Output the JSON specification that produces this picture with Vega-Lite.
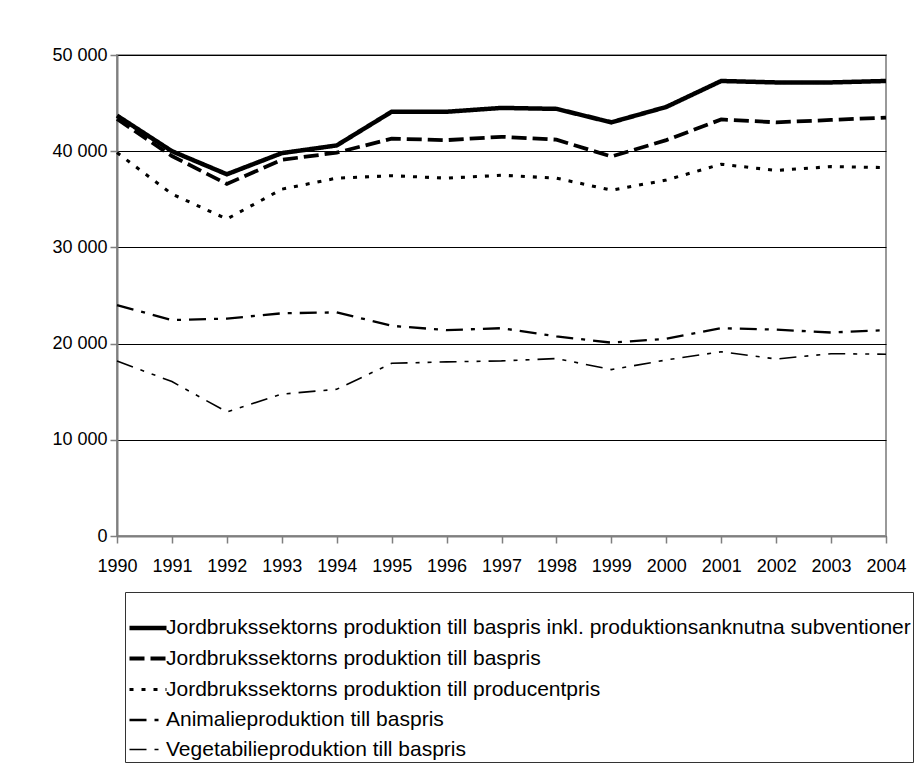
{
  "$schema": "https://vega.github.io/schema/vega-lite/v6.json",
  "width": 769,
  "height": 481,
  "autosize": {"type": "none"},
  "padding": {"left": 117, "top": 55, "right": 36, "bottom": 238},
  "background": "white",
  "config": {
    "font": "Liberation Sans",
    "view": {"stroke": "#999999", "strokeWidth": 2},
    "axis": {"labelFont": "Liberation Sans", "labelColor": "black", "labelFontSize": 18, "domainColor": "#7f7f7f", "domainWidth": 2, "tickColor": "#7f7f7f", "tickWidth": 1.5, "tickSize": 7, "title": null},
    "legend": {"labelFont": "Liberation Sans", "titleFont": "Liberation Sans"}
  },
  "data": {
    "values": [
      {"year": 1990, "series": "Jordbrukssektorns produktion till baspris inkl. produktionsanknutna subventioner", "value": 43700},
      {"year": 1991, "series": "Jordbrukssektorns produktion till baspris inkl. produktionsanknutna subventioner", "value": 40000},
      {"year": 1992, "series": "Jordbrukssektorns produktion till baspris inkl. produktionsanknutna subventioner", "value": 37600},
      {"year": 1993, "series": "Jordbrukssektorns produktion till baspris inkl. produktionsanknutna subventioner", "value": 39800},
      {"year": 1994, "series": "Jordbrukssektorns produktion till baspris inkl. produktionsanknutna subventioner", "value": 40600},
      {"year": 1995, "series": "Jordbrukssektorns produktion till baspris inkl. produktionsanknutna subventioner", "value": 44100},
      {"year": 1996, "series": "Jordbrukssektorns produktion till baspris inkl. produktionsanknutna subventioner", "value": 44100},
      {"year": 1997, "series": "Jordbrukssektorns produktion till baspris inkl. produktionsanknutna subventioner", "value": 44500},
      {"year": 1998, "series": "Jordbrukssektorns produktion till baspris inkl. produktionsanknutna subventioner", "value": 44400},
      {"year": 1999, "series": "Jordbrukssektorns produktion till baspris inkl. produktionsanknutna subventioner", "value": 43000},
      {"year": 2000, "series": "Jordbrukssektorns produktion till baspris inkl. produktionsanknutna subventioner", "value": 44600},
      {"year": 2001, "series": "Jordbrukssektorns produktion till baspris inkl. produktionsanknutna subventioner", "value": 47300},
      {"year": 2002, "series": "Jordbrukssektorns produktion till baspris inkl. produktionsanknutna subventioner", "value": 47150},
      {"year": 2003, "series": "Jordbrukssektorns produktion till baspris inkl. produktionsanknutna subventioner", "value": 47150},
      {"year": 2004, "series": "Jordbrukssektorns produktion till baspris inkl. produktionsanknutna subventioner", "value": 47300},
      {"year": 1990, "series": "Jordbrukssektorns produktion till baspris", "value": 43350},
      {"year": 1991, "series": "Jordbrukssektorns produktion till baspris", "value": 39500},
      {"year": 1992, "series": "Jordbrukssektorns produktion till baspris", "value": 36600},
      {"year": 1993, "series": "Jordbrukssektorns produktion till baspris", "value": 39100},
      {"year": 1994, "series": "Jordbrukssektorns produktion till baspris", "value": 39850},
      {"year": 1995, "series": "Jordbrukssektorns produktion till baspris", "value": 41300},
      {"year": 1996, "series": "Jordbrukssektorns produktion till baspris", "value": 41150},
      {"year": 1997, "series": "Jordbrukssektorns produktion till baspris", "value": 41500},
      {"year": 1998, "series": "Jordbrukssektorns produktion till baspris", "value": 41200},
      {"year": 1999, "series": "Jordbrukssektorns produktion till baspris", "value": 39450},
      {"year": 2000, "series": "Jordbrukssektorns produktion till baspris", "value": 41150},
      {"year": 2001, "series": "Jordbrukssektorns produktion till baspris", "value": 43300},
      {"year": 2002, "series": "Jordbrukssektorns produktion till baspris", "value": 43000},
      {"year": 2003, "series": "Jordbrukssektorns produktion till baspris", "value": 43250},
      {"year": 2004, "series": "Jordbrukssektorns produktion till baspris", "value": 43500},
      {"year": 1990, "series": "Jordbrukssektorns produktion till producentpris", "value": 39850},
      {"year": 1991, "series": "Jordbrukssektorns produktion till producentpris", "value": 35550},
      {"year": 1992, "series": "Jordbrukssektorns produktion till producentpris", "value": 32950},
      {"year": 1993, "series": "Jordbrukssektorns produktion till producentpris", "value": 36050},
      {"year": 1994, "series": "Jordbrukssektorns produktion till producentpris", "value": 37200},
      {"year": 1995, "series": "Jordbrukssektorns produktion till producentpris", "value": 37450},
      {"year": 1996, "series": "Jordbrukssektorns produktion till producentpris", "value": 37200},
      {"year": 1997, "series": "Jordbrukssektorns produktion till producentpris", "value": 37500},
      {"year": 1998, "series": "Jordbrukssektorns produktion till producentpris", "value": 37200},
      {"year": 1999, "series": "Jordbrukssektorns produktion till producentpris", "value": 35950},
      {"year": 2000, "series": "Jordbrukssektorns produktion till producentpris", "value": 37000},
      {"year": 2001, "series": "Jordbrukssektorns produktion till producentpris", "value": 38650},
      {"year": 2002, "series": "Jordbrukssektorns produktion till producentpris", "value": 38000},
      {"year": 2003, "series": "Jordbrukssektorns produktion till producentpris", "value": 38400},
      {"year": 2004, "series": "Jordbrukssektorns produktion till producentpris", "value": 38300},
      {"year": 1990, "series": "Animalieproduktion till baspris", "value": 24000},
      {"year": 1991, "series": "Animalieproduktion till baspris", "value": 22450},
      {"year": 1992, "series": "Animalieproduktion till baspris", "value": 22600},
      {"year": 1993, "series": "Animalieproduktion till baspris", "value": 23150},
      {"year": 1994, "series": "Animalieproduktion till baspris", "value": 23250},
      {"year": 1995, "series": "Animalieproduktion till baspris", "value": 21850},
      {"year": 1996, "series": "Animalieproduktion till baspris", "value": 21400},
      {"year": 1997, "series": "Animalieproduktion till baspris", "value": 21600},
      {"year": 1998, "series": "Animalieproduktion till baspris", "value": 20750},
      {"year": 1999, "series": "Animalieproduktion till baspris", "value": 20100},
      {"year": 2000, "series": "Animalieproduktion till baspris", "value": 20500},
      {"year": 2001, "series": "Animalieproduktion till baspris", "value": 21600},
      {"year": 2002, "series": "Animalieproduktion till baspris", "value": 21450},
      {"year": 2003, "series": "Animalieproduktion till baspris", "value": 21150},
      {"year": 2004, "series": "Animalieproduktion till baspris", "value": 21400},
      {"year": 1990, "series": "Vegetabilieproduktion till baspris", "value": 18200},
      {"year": 1991, "series": "Vegetabilieproduktion till baspris", "value": 16050},
      {"year": 1992, "series": "Vegetabilieproduktion till baspris", "value": 12900},
      {"year": 1993, "series": "Vegetabilieproduktion till baspris", "value": 14750},
      {"year": 1994, "series": "Vegetabilieproduktion till baspris", "value": 15250},
      {"year": 1995, "series": "Vegetabilieproduktion till baspris", "value": 17950},
      {"year": 1996, "series": "Vegetabilieproduktion till baspris", "value": 18100},
      {"year": 1997, "series": "Vegetabilieproduktion till baspris", "value": 18200},
      {"year": 1998, "series": "Vegetabilieproduktion till baspris", "value": 18450},
      {"year": 1999, "series": "Vegetabilieproduktion till baspris", "value": 17300},
      {"year": 2000, "series": "Vegetabilieproduktion till baspris", "value": 18300},
      {"year": 2001, "series": "Vegetabilieproduktion till baspris", "value": 19150},
      {"year": 2002, "series": "Vegetabilieproduktion till baspris", "value": 18400},
      {"year": 2003, "series": "Vegetabilieproduktion till baspris", "value": 18950},
      {"year": 2004, "series": "Vegetabilieproduktion till baspris", "value": 18900}
    ]
  },
  "mark": {"type": "line", "color": "black", "strokeCap": "butt", "strokeJoin": "miter"},
  "encoding": {
    "x": {
      "field": "year", "type": "quantitative",
      "scale": {"domain": [1990, 2004], "nice": false, "zero": false},
      "axis": {"values": [1990,1991,1992,1993,1994,1995,1996,1997,1998,1999,2000,2001,2002,2003,2004], "format": "d", "grid": false, "labelPadding": 14, "labelFlush": false, "labelOverlap": false}
    },
    "y": {
      "field": "value", "type": "quantitative",
      "scale": {"domain": [0, 50000], "nice": false},
      "axis": {"values": [0, 10000, 20000, 30000, 40000, 50000], "labelExpr": "replace(format(datum.value, ','), ',', ' ')", "grid": true, "gridColor": "black", "gridWidth": 1, "labelPadding": 3}
    },
    "strokeDash": {
      "field": "series", "type": "nominal",
      "scale": {
        "domain": ["Jordbrukssektorns produktion till baspris inkl. produktionsanknutna subventioner", "Jordbrukssektorns produktion till baspris", "Jordbrukssektorns produktion till producentpris", "Animalieproduktion till baspris", "Vegetabilieproduktion till baspris"],
        "range": [[1, 0], [15, 6], [4, 8], [17, 8, 4, 8], [17, 8, 4, 8, 4, 8]]
      },
      "legend": {"title": " ", "titleFontSize": 12, "titlePadding": 1, "orient": "none", "legendX": 8, "legendY": 537, "padding": 2, "strokeColor": "#333333", "symbolType": "stroke", "symbolSize": 1369, "symbolStrokeColor": "black", "labelFontSize": 21, "labelColor": "black", "labelLimit": 1000, "labelOffset": -3, "rowPadding": -5}
    },
    "strokeWidth": {
      "field": "series", "type": "nominal",
      "scale": {
        "domain": ["Jordbrukssektorns produktion till baspris inkl. produktionsanknutna subventioner", "Jordbrukssektorns produktion till baspris", "Jordbrukssektorns produktion till producentpris", "Animalieproduktion till baspris", "Vegetabilieproduktion till baspris"],
        "range": [4.5, 1.6, 1.6, 1.6, 1.6]
      },
      "legend": {"title": " ", "titleFontSize": 12, "titlePadding": 1, "orient": "none", "legendX": 8, "legendY": 537, "padding": 2, "strokeColor": "#333333", "symbolType": "stroke", "symbolSize": 1369, "symbolStrokeColor": "black", "labelFontSize": 21, "labelColor": "black", "labelLimit": 1000, "labelOffset": -3, "rowPadding": -5}
    }
  }
}
